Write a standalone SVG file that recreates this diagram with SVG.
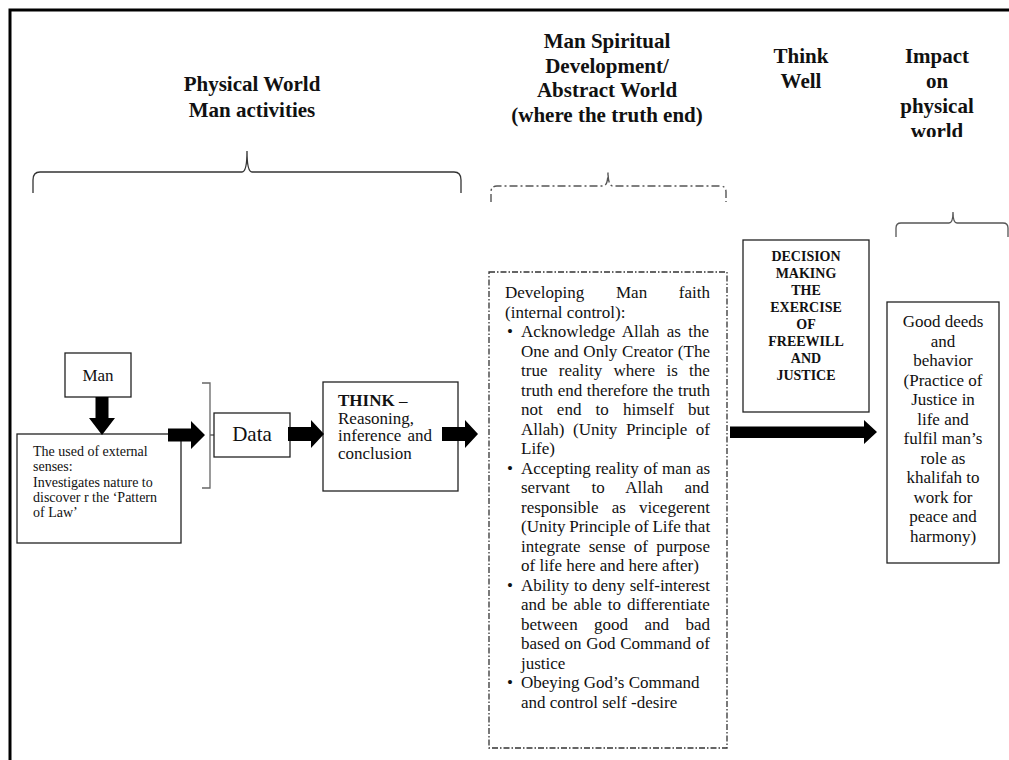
<svg xmlns="http://www.w3.org/2000/svg" width="1009" height="760" viewBox="0 0 1009 760">
<style>
text{font-family:"Liberation Serif","Times New Roman",serif;fill:#111}
.h{font-size:21px;font-weight:bold;text-anchor:middle}
.box{fill:#fff;stroke:#222;stroke-width:1.3}
.b17{font-size:17px}
.b14{font-size:14px}
.dec{font-size:14px;font-weight:bold;text-anchor:middle}
.gd{font-size:17px;text-anchor:middle}
.arr{fill:#000}
</style>
<defs>
<clipPath id="clipWorld"><rect x="880" y="0" width="129" height="137"/></clipPath>
</defs>
<rect width="1009" height="760" fill="#fff"/>
<path d="M10,765 V10 H1015" fill="none" stroke="#000" stroke-width="3"/>

<g id="headers">
<text class="h" x="252" y="90.5">Physical World</text>
<text class="h" x="252" y="116.5">Man activities</text>
<text class="h" x="607" y="48">Man Spiritual</text>
<text class="h" x="607" y="72.5">Development/</text>
<text class="h" x="607" y="97">Abstract World</text>
<text class="h" x="607" y="121.5">(where the truth end)</text>
<text class="h" x="801" y="63">Think</text>
<text class="h" x="801" y="88">Well</text>
<text class="h" x="937" y="63">Impact</text>
<text class="h" x="937" y="88">on</text>
<text class="h" x="937" y="113">physical</text>
<text class="h" x="937" y="138" clip-path="url(#clipWorld)">world</text>
</g>

<g id="braces" fill="none">
<path d="M33,193 V180 Q33,172 40,172 H242 Q247,172 247,151 Q247,172 252,172 H454 Q461,172 461,180 V193" stroke="#333" stroke-width="1.3"/>
<path d="M491,202 V192 Q491,186 497,186 H603 Q608,186 608,172 Q608,186 613,186 H720 Q726,186 726,192 V202" stroke="#555" stroke-width="1.4" stroke-dasharray="8,3,2,3"/>
<path d="M896,237 V228 Q896,223 901,223 H949 Q953,223 953,212 Q953,223 957,223 H1003 Q1008,223 1008,228 V237" stroke="#555" stroke-width="1.3"/>
<path d="M202,383 H210 V488 H202 M210,435 H214" stroke="#666" stroke-width="1.3"/>
</g>

<g id="man">
<rect class="box" x="65" y="353" width="66" height="44"/>
<text class="b17" x="98" y="381" text-anchor="middle">Man</text>
</g>

<g id="senses">
<rect class="box" x="17" y="434" width="164" height="109"/>
<text class="b14" x="33" y="456">The used of external</text>
<text class="b14" x="33" y="471">senses:</text>
<text class="b14" x="33" y="487">Investigates nature to</text>
<text class="b14" x="33" y="502">discover r the ‘Pattern</text>
<text class="b14" x="33" y="517">of Law’</text>
</g>

<g id="data">
<rect class="box" x="214" y="413" width="76" height="44"/>
<text x="252" y="441" font-size="21" text-anchor="middle">Data</text>
</g>

<g id="think">
<rect class="box" x="323" y="382" width="135" height="109"/>
<text class="b17" x="338" y="406"><tspan font-weight="bold">THINK</tspan> –</text>
<text class="b17" x="338" y="423.5">Reasoning,</text>
<text class="b17" x="338" y="441" word-spacing="2">inference and</text>
<text class="b17" x="338" y="458.5">conclusion</text>
</g>

<g id="faith">
<rect x="489" y="272" width="238" height="476" fill="#fff" stroke="#333" stroke-width="1.3" stroke-dasharray="6,2,1.5,2"/>
<g class="b17">
<text x="505" y="298" word-spacing="27.4">Developing Man faith</text>
<text x="505" y="317.5">(internal control):</text>
<text x="507" y="337">•</text>
<text x="521" y="337" word-spacing="3">Acknowledge Allah as the</text>
<text x="521" y="356.5" word-spacing="0.5">One and Only Creator (The</text>
<text x="521" y="376" word-spacing="7.1">true reality where is the</text>
<text x="521" y="395.5" word-spacing="0.3">truth end therefore the truth</text>
<text x="521" y="415" word-spacing="9.9">not end to himself but</text>
<text x="521" y="434.5" word-spacing="4.3">Allah) (Unity Principle of</text>
<text x="521" y="454">Life)</text>
<text x="507" y="473.5">•</text>
<text x="521" y="473.5" word-spacing="0.3">Accepting reality of man as</text>
<text x="521" y="493" word-spacing="17.2">servant to Allah and</text>
<text x="521" y="512.5" word-spacing="9">responsible as vicegerent</text>
<text x="521" y="532" word-spacing="-0.4">(Unity Principle of Life that</text>
<text x="521" y="551.5" word-spacing="4">integrate sense of purpose</text>
<text x="521" y="571">of life here and here after)</text>
<text x="507" y="590.5">•</text>
<text x="521" y="590.5" word-spacing="0.5">Ability to deny self-interest</text>
<text x="521" y="610" word-spacing="1.7">and be able to differentiate</text>
<text x="521" y="629.5" word-spacing="12.2">between good and bad</text>
<text x="521" y="649" word-spacing="0.5">based on God Command of</text>
<text x="521" y="668.5">justice</text>
<text x="507" y="688">•</text>
<text x="521" y="688">Obeying God’s Command</text>
<text x="521" y="707.5">and control self -desire</text>
</g>
</g>

<g id="decision">
<rect class="box" x="743" y="240" width="126" height="172"/>
<text class="dec" x="806" y="261">DECISION</text>
<text class="dec" x="806" y="278">MAKING</text>
<text class="dec" x="806" y="295">THE</text>
<text class="dec" x="806" y="312">EXERCISE</text>
<text class="dec" x="806" y="329">OF</text>
<text class="dec" x="806" y="346">FREEWILL</text>
<text class="dec" x="806" y="363">AND</text>
<text class="dec" x="806" y="380">JUSTICE</text>
</g>

<g id="gooddeeds">
<rect class="box" x="887" y="302" width="112" height="261"/>
<text class="gd" x="943" y="327">Good deeds</text>
<text class="gd" x="943" y="346.5">and</text>
<text class="gd" x="943" y="366">behavior</text>
<text class="gd" x="943" y="385.5">(Practice of</text>
<text class="gd" x="943" y="405">Justice in</text>
<text class="gd" x="943" y="424.5">life and</text>
<text class="gd" x="943" y="444">fulfil man’s</text>
<text class="gd" x="943" y="463.5">role as</text>
<text class="gd" x="943" y="483">khalifah to</text>
<text class="gd" x="943" y="502.5">work for</text>
<text class="gd" x="943" y="522">peace and</text>
<text class="gd" x="943" y="541.5">harmony)</text>
</g>

<g id="connectors">
<polygon class="arr" points="95.5,397 108.5,397 108.5,418 115,418 102,435 89,418 95.5,418"/>
<polygon class="arr" points="168,428.5 191,428.5 191,421 205,435 191,449 191,441.5 168,441.5"/>
<polygon class="arr" points="288,427 311,427 311,420 324,434 311,448 311,441 288,441"/>
<polygon class="arr" points="442,427 465,427 465,420 478,434 465,448 465,441 442,441"/>
<polygon class="arr" points="730,426.5 864,426.5 864,420 877,432 864,444 864,438 730,438"/>
</g>
</svg>
